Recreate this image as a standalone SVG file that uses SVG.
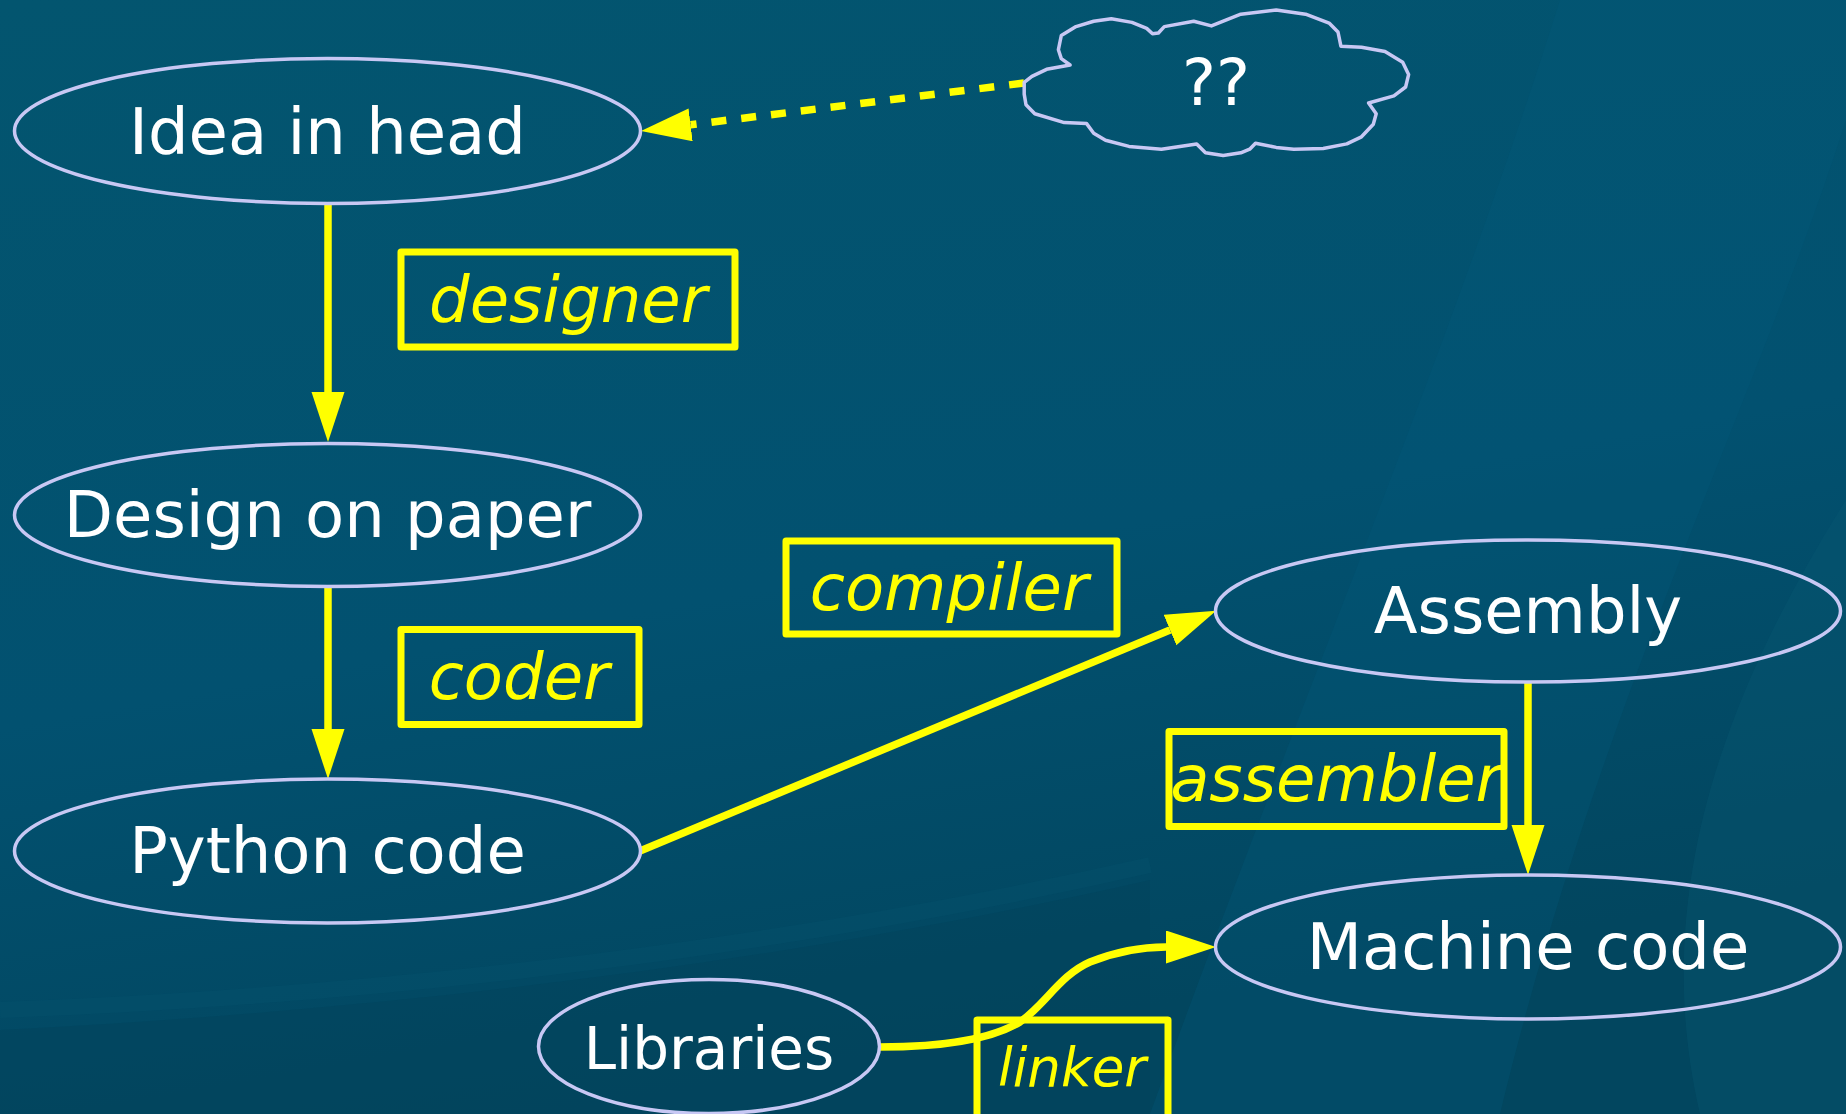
<svg xmlns="http://www.w3.org/2000/svg" width="1846" height="1114" viewBox="0 0 1846 1114">
  <defs>
    <linearGradient id="bg" x1="0" y1="0" x2="0.3" y2="1">
      <stop offset="0" stop-color="#03556f"/>
      <stop offset="0.6" stop-color="#025170"/>
      <stop offset="1" stop-color="#02465f"/>
    </linearGradient>
    <marker id="ah" markerUnits="userSpaceOnUse" markerWidth="50" markerHeight="34" refX="0" refY="16.5" orient="auto">
      <path d="M0,0 L50,16.5 L0,33 Z" fill="#ffff00"/>
    </marker>
    <style>
      .node ellipse, .node path { fill: none; stroke: #c8c8f4; stroke-width: 3.5; }
      .node text { font-family: "DejaVu Sans", "Liberation Sans", sans-serif; font-size: 64px; fill: #ffffff; text-anchor: middle; }
      .edge { fill: none; stroke: #ffff00; stroke-width: 7.5; }
      .dashed { stroke-dasharray: 15 15; }
      .label rect { fill: none; stroke: #ffff00; stroke-width: 7; stroke-linejoin: round; }
      .label text { font-family: "DejaVu Sans", "Liberation Sans", sans-serif; font-style: italic; font-size: 64px; fill: #ffff00; text-anchor: middle; }
    </style>
  </defs>

  <!-- background -->
  <rect x="0" y="0" width="1846" height="1114" fill="url(#bg)"/>
  <path d="M1560,0 L1846,0 L1846,120 C1750,420 1600,700 1500,1114 L1150,1114 C1300,700 1450,350 1560,0 Z" fill="#045a7a" opacity="0.3"/>
  <path d="M1846,500 C1720,700 1650,900 1700,1114 L1846,1114 Z" fill="#0a5a72" opacity="0.35"/>
  <path d="M0,1030 C400,1010 800,960 1150,880 L1150,1114 L0,1114 Z" fill="#02435b" opacity="0.45"/>
  <path d="M0,1010 C400,995 800,945 1150,865" fill="none" stroke="#0b5f7c" stroke-width="16" opacity="0.15"/>

  <!-- connectors -->
  <g id="connectors">
    <line class="edge" x1="328" y1="203" x2="328" y2="392" marker-end="url(#ah)"/>
    <line class="edge" x1="328" y1="586" x2="328" y2="729" marker-end="url(#ah)"/>
    <line class="edge" x1="640" y1="851" x2="1170" y2="630" marker-end="url(#ah)"/>
    <line class="edge" x1="1528" y1="682" x2="1528" y2="825" marker-end="url(#ah)"/>
    <path class="edge" d="M880,1047 C940,1047 990,1040 1020,1022 C1045,1005 1060,975 1090,962 C1115,952 1140,947 1166,947" marker-end="url(#ah)"/>
    <line class="edge dashed" x1="1024" y1="83" x2="690.6" y2="124.8" marker-end="url(#ah)"/>
  </g>

  <!-- edge labels -->
  <g id="label-designer" class="label">
    <rect x="401" y="252" width="334" height="95"/>
    <text x="568" y="321.5">designer</text>
  </g>
  <g id="label-coder" class="label">
    <rect x="401" y="629.5" width="238" height="95"/>
    <text x="519" y="699">coder</text>
  </g>
  <g id="label-compiler" class="label">
    <rect x="786" y="541" width="331" height="93"/>
    <text x="949" y="610">compiler</text>
  </g>
  <g id="label-assembler" class="label">
    <rect x="1169" y="731.6" width="335" height="95"/>
    <text x="1336" y="801.4">assembler</text>
  </g>
  <g id="label-linker" class="label">
    <rect x="977" y="1020" width="191" height="110"/>
    <text x="1072" y="1085.6" style="font-size:53px">linker</text>
  </g>

  <!-- nodes -->
  <g id="node-idea" class="node">
    <ellipse cx="327.5" cy="131" rx="313" ry="72.5"/>
    <text x="327.5" y="153.5">Idea in head</text>
  </g>
  <g id="node-design" class="node">
    <ellipse cx="327.5" cy="515" rx="313" ry="71.5"/>
    <text x="327.5" y="536.5">Design on paper</text>
  </g>
  <g id="node-python" class="node">
    <ellipse cx="327.5" cy="851" rx="313" ry="72"/>
    <text x="327.5" y="873">Python code</text>
  </g>
  <g id="node-assembly" class="node">
    <ellipse cx="1528" cy="611" rx="312.5" ry="71"/>
    <text x="1528" y="633.4">Assembly</text>
  </g>
  <g id="node-machine" class="node">
    <ellipse cx="1528" cy="947" rx="312.5" ry="72"/>
    <text x="1528" y="969">Machine code</text>
  </g>
  <g id="node-libraries" class="node">
    <ellipse cx="709" cy="1046.5" rx="170.5" ry="67"/>
    <text x="709" y="1068.5" style="font-size:58px">Libraries</text>
  </g>
  <g id="node-cloud" class="node">
    <path d="M1024.2,82.4 L1031.9,76.4 L1046.6,69.3 L1070.1,65 L1061.3,58.6 L1058.4,49.7 L1061.3,35.5 L1076,26.6 L1093.7,21.3 L1111.3,18.8 L1131.9,22.4 L1146.7,28.4 L1152.5,33.7 L1158.4,33 L1164.3,26.6 L1193.7,21.3 L1211.4,25.9 L1240.8,14.2 L1276.2,9.9 L1305.6,14.2 L1329.1,23.1 L1338,32 L1340.9,46.2 L1361.5,47.2 L1385,51.5 L1402.7,62.2 L1408.6,74.6 L1405.6,87 L1393.9,95.9 L1368.6,103 L1376.2,113.7 L1373.3,124.3 L1361.5,136.8 L1346.8,143.9 L1323.2,148.5 L1293.8,149.2 L1276.2,147.4 L1255.5,143.2 L1249.7,149.2 L1240.8,152.8 L1223.2,155.6 L1205.5,152.8 L1196.7,143.9 L1161.4,149.2 L1129,146.4 L1105.5,140.3 L1093.7,133.2 L1086.6,123.6 L1064.3,122.6 L1034.8,113.7 L1026,104.8 L1024.2,94.1 Z" stroke-linejoin="round"/>
    <text x="1216" y="104.8">??</text>
  </g>
</svg>
